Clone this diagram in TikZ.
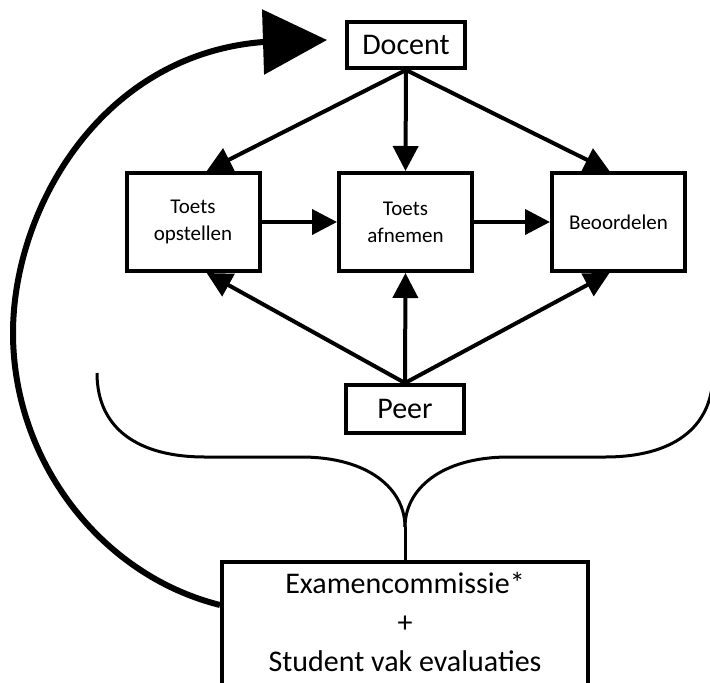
\documentclass[tikz,border=0pt]{standalone}
\usepackage{fontspec}
\setmainfont{Carlito}
\usepackage{tikz}
\usetikzlibrary{arrows, arrows.meta}
\usetikzlibrary{positioning}

\newcommand{\bigtxt}{\fontsize{30}{39}\selectfont}
\newcommand{\smalltxt}{\fontsize{21}{27}\selectfont}

\begin{document}
\begin{tikzpicture}[x=1pt, y=-1pt,
  box/.style={draw, line width=4pt, align=center, inner sep=0pt},
  arr/.style={line width=4pt, -{Triangle[length=25pt, width=25pt]}},
  brace/.style={line width=3pt}]
\useasboundingbox (0,0) rectangle (710,683);

%boxes
\node [box, font=\bigtxt, minimum width=118pt, minimum height=46pt] (docent) at (406,45) {Docent};
\node [box, font=\smalltxt, minimum width=133pt, minimum height=98pt] (opstellen) at (193,222) {Toets\\opstellen};
\node [box, font=\smalltxt, minimum width=133pt, minimum height=98pt] (afnemen) at (405.5,222) {Toets\\afnemen};
\node [box, font=\smalltxt, minimum width=133pt, minimum height=98pt] (beoordelen) at (618.5,222) {Beoordelen};
\node [box, font=\bigtxt, minimum width=118pt, minimum height=48pt] (peer) at (405,409) {Peer};
\node [box, font=\bigtxt, minimum width=366pt, anchor=north, inner ysep=10.5pt, text depth=45pt] (exam) at (405,560) {Examencommissie*\\+\\Student vak evaluaties};

%arrows
\draw[arr] (docent.south) -- (opstellen.75);
\draw[arr] (docent.south) -- (afnemen.north);
\draw[arr] (docent.south) -- (beoordelen.100);
\draw[arr] (opstellen.east) -- (afnemen.west);
\draw[arr] (afnemen.east) -- (beoordelen.west);
\draw[arr] (peer.north) -- (opstellen.-75);
\draw[arr] (peer.north) -- (afnemen.south);
\draw[arr] (peer.north) -- (beoordelen.-100);

%feedback loop
\coordinate (loopstart) at (220,605);
\coordinate (looptip) at (327,40);
\draw[line width=6pt, -{Triangle[length=64pt, width=64pt]}] (loopstart) .. controls (100,575) and (13,460) .. (13,333) .. controls (13,210) and (100,55) .. (263,42) -- (looptip);

%brace
\coordinate (braceL) at (97,373);
\coordinate (braceR) at (713,373);
\coordinate (cusp) at (405,527);
\draw[brace] (braceL) .. controls (97,430) and (140,457) .. (205,457) -- (301,457) .. controls (370,457) and (405,490) .. (cusp);
\draw[brace] (braceR) .. controls (713,430) and (670,457) .. (605,457) -- (509,457) .. controls (440,457) and (405,490) .. (cusp);
\draw[brace] (cusp) -- (exam.north);

\end{tikzpicture}
\end{document}
